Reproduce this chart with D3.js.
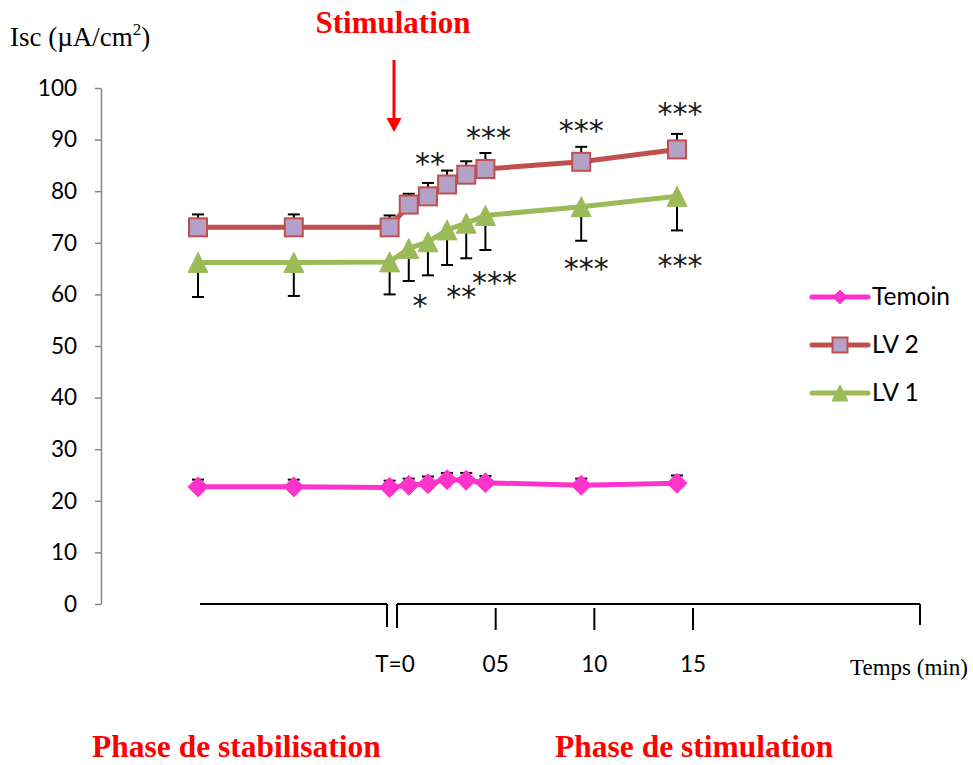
<!DOCTYPE html>
<html>
<head>
<meta charset="utf-8">
<script src="https://cdn.jsdelivr.net/npm/d3@7/dist/d3.min.js"></script>
<style>
  html, body { margin: 0; padding: 0; background: #fff; }
  svg { display: block; }
</style>
</head>
<body>
<svg id="chart" width="973" height="765"></svg>
<script>
// Sampling times (min) relative to stimulation
const minutes = [-10, -5, 0, 1, 2, 3, 4, 5, 10, 15];

// Short-circuit current (µA/cm²), mean and SEM
const temoin    = [22.7, 22.7, 22.6, 23.0, 23.3, 24.1, 24.0, 23.5, 23.0, 23.4];
const temoinErr = [1.4, 1.4, 1.3, 1.3, 1.4, 1.3, 1.4, 1.3, 1.3, 1.5];
const lv2       = [73.0, 73.0, 73.0, 77.4, 79.0, 81.3, 83.2, 84.3, 85.7, 88.1];
const lv2Err    = [2.5, 2.5, 2.3, 2.1, 2.6, 2.7, 2.6, 3.1, 2.9, 3.0];
const lv1       = [66.2, 66.2, 66.3, 68.9, 70.2, 72.5, 73.8, 75.3, 77.0, 79.0];
const lv1Err    = [6.7, 6.5, 6.3, 6.3, 6.5, 6.8, 6.8, 6.7, 6.6, 6.6];

const seriesNames = ["Temoin", "LV 2", "LV 1"];

// Value axis ticks
const yTicks = [0, 10, 20, 30, 40, 50, 60, 70, 80, 90, 100];

// Time axis drawn under the plot
const timeTicks = [0, 5, 10, 15];
const timeTickLabels = ["T=0", "05", "10", "15"];

// Significance marks: LV 2 above its error bars, LV 1 below
const sigLv2 = [{ t: 2, label: "**" }, { t: 5, label: "***" }, { t: 10, label: "***" }, { t: 15, label: "***" }];
const sigLv1 = [{ t: 2, label: "*" }, { t: 4, label: "**" }, { t: 5, label: "***" }, { t: 10, label: "***" }, { t: 15, label: "***" }];

// ---------- layout ----------
const svg = d3.select("#chart");
const axisGray = "#868686";
const colors = { "Temoin": "#FF33CC", "LV 2": "#C0504D", "LV 1": "#9BBB59" };
const squareFill = "#B3A2C7";
const red = "#FF0000";
const serif = "'Liberation Serif', 'Times New Roman', serif";
const sans = "Lato, 'Open Sans', sans-serif";

const x = d3.scaleLinear().domain([-10, 15]).range([198, 677]);
const y = d3.scaleLinear().domain([0, 100]).range([604, 88]);
const tx = d3.scaleLinear().domain([0, 15]).range([397, 693]);

// nudges for the significance marks (px)
const sigLv2Offset = [[2, -26], [3, -22], [0, -23], [3, -27]];
const sigLv1Offset = [[-8, 24], [-5, 32], [9, 26], [5, 21], [3, 29]];

// ---------- y axis ----------
const yAxis = d3.axisLeft(y).tickValues(yTicks).tickSize(6).tickSizeOuter(0).tickPadding(18);
const gy = svg.append("g").attr("transform", "translate(101,0)").call(yAxis);
gy.select(".domain").attr("stroke", axisGray).attr("stroke-width", 1.5);
gy.selectAll(".tick line").attr("stroke", axisGray).attr("stroke-width", 1.5);
gy.selectAll(".tick text").attr("font-family", sans).attr("font-size", 22.5).attr("fill", "#000");

// y title
const yTitle = svg.append("text").attr("x", 10).attr("y", 46)
  .attr("font-family", serif).attr("font-size", 27).attr("fill", "#000");
yTitle.append("tspan").text("Isc (µA/cm");
yTitle.append("tspan").attr("font-size", 17).attr("dy", -11).text("2");
yTitle.append("tspan").attr("dy", 11).text(")");

// ---------- series ----------
const series = [
  { name: "Temoin", values: temoin, err: temoinErr, dir: 1, marker: "diamond" },
  { name: "LV 2", values: lv2, err: lv2Err, dir: 1, marker: "square" },
  { name: "LV 1", values: lv1, err: lv1Err, dir: -1, marker: "triangle" }
];

const line = d3.line().x(d => x(d[0])).y(d => y(d[1]));

function drawMarker(g, type, cx, cy, size, name) {
  if (type === "diamond") {
    const r = size / 2;
    g.append("path")
      .attr("d", `M${cx},${cy - r}L${cx + r},${cy}L${cx},${cy + r}L${cx - r},${cy}Z`)
      .attr("fill", colors[name]).attr("stroke", colors[name]).attr("stroke-width", 1);
  } else if (type === "square") {
    g.append("rect").attr("x", cx - size / 2).attr("y", cy - size / 2)
      .attr("width", size).attr("height", size)
      .attr("fill", squareFill).attr("stroke", colors[name]).attr("stroke-width", 2);
  } else {
    const h = size;
    g.append("path")
      .attr("d", `M${cx},${cy - h / 2}L${cx + size / 2},${cy + h / 2}L${cx - size / 2},${cy + h / 2}Z`)
      .attr("fill", colors[name]).attr("stroke", colors[name]).attr("stroke-width", 1);
  }
}

const plot = svg.append("g");

// lines
series.forEach(s => {
  const pts = minutes.map((m, i) => [m, s.values[i]]);
  plot.append("path").datum(pts).attr("d", line)
    .attr("fill", "none").attr("stroke", colors[s.name]).attr("stroke-width", 5)
    .attr("stroke-linejoin", "round");
});

// error bars (one-sided)
series.forEach(s => {
  minutes.forEach((m, i) => {
    const cx = x(m), y0 = y(s.values[i]), y1 = y(s.values[i] + s.dir * s.err[i]);
    plot.append("line").attr("x1", cx).attr("x2", cx).attr("y1", y0).attr("y2", y1)
      .attr("stroke", "#000").attr("stroke-width", 2);
    plot.append("line").attr("x1", cx - 6).attr("x2", cx + 6).attr("y1", y1).attr("y2", y1)
      .attr("stroke", "#000").attr("stroke-width", 2);
  });
});

// markers
const markerSize = { diamond: 20, square: 18, triangle: 20 };
series.forEach(s => {
  minutes.forEach((m, i) => {
    drawMarker(plot, s.marker, x(m), y(s.values[i]), markerSize[s.marker], s.name);
  });
});

// significance marks
function sigText(list, offsets, vals, errs, dir) {
  list.forEach((a, k) => {
    const i = minutes.indexOf(a.t);
    const cx = x(a.t) + offsets[k][0];
    const cy = y(vals[i] + dir * errs[i]) + offsets[k][1];
    svg.append("text").attr("x", cx).attr("y", cy + 17)
      .attr("text-anchor", "middle")
      .attr("font-family", "'DejaVu Sans', sans-serif").attr("font-size", 30)
      .attr("letter-spacing", 0).attr("fill", "#1a1a1a")
      .text(a.label);
  });
}
sigText(sigLv2, sigLv2Offset, lv2, lv2Err, 1);
sigText(sigLv1, sigLv1Offset, lv1, lv1Err, -1);

// ---------- legend ----------
const legendY = [297, 345, 393];
series.forEach((s, k) => {
  const g = svg.append("g");
  g.append("line").attr("x1", 812).attr("x2", 868).attr("y1", legendY[k]).attr("y2", legendY[k])
    .attr("stroke", colors[s.name]).attr("stroke-width", 5).attr("stroke-linecap", "round");
  const sz = s.marker === "diamond" ? 14 : (s.marker === "square" ? 15 : 16);
  drawMarker(g, s.marker, 840, legendY[k], sz, s.name);
  g.append("text").attr("x", 872).attr("y", legendY[k] + 8)
    .attr("font-family", sans).attr("font-size", 24.5).attr("fill", "#000")
    .text(seriesNames[k]);
});

// ---------- time axis ----------
const axisY = 604;
const ta = svg.append("g").attr("stroke", "#000").attr("stroke-width", 2);
ta.append("line").attr("x1", 200).attr("x2", 387).attr("y1", axisY).attr("y2", axisY);
ta.append("line").attr("x1", 387).attr("x2", 387).attr("y1", axisY).attr("y2", axisY + 23);
ta.append("line").attr("x1", tx(0)).attr("x2", 920).attr("y1", axisY).attr("y2", axisY);
ta.append("line").attr("x1", tx(0)).attr("x2", tx(0)).attr("y1", axisY).attr("y2", axisY + 24);
ta.append("line").attr("x1", 920).attr("x2", 920).attr("y1", axisY).attr("y2", axisY + 21);
timeTicks.slice(1).forEach(t => {
  ta.append("line").attr("x1", tx(t)).attr("x2", tx(t)).attr("y1", axisY + 4).attr("y2", axisY + 26);
});
timeTicks.forEach((t, i) => {
  svg.append("text").attr("x", tx(t) - (i === 0 ? 2 : 0)).attr("y", 672)
    .attr("text-anchor", "middle").attr("font-family", sans).attr("font-size", 22.5)
    .attr("fill", "#000").text(timeTickLabels[i]);
});
svg.append("text").attr("x", 850).attr("y", 675)
  .attr("font-family", serif).attr("font-size", 23).attr("fill", "#000").text("Temps (min)");

// ---------- stimulation marker ----------
svg.append("text").attr("x", 393).attr("y", 33).attr("text-anchor", "middle")
  .attr("font-family", serif).attr("font-weight", "bold").attr("font-size", 31)
  .attr("fill", red).text("Stimulation");
svg.append("line").attr("x1", 394).attr("x2", 394).attr("y1", 60).attr("y2", 119)
  .attr("stroke", red).attr("stroke-width", 3);
svg.append("path").attr("d", "M386.5,118L401.5,118L394,132Z").attr("fill", red);

// ---------- phase labels ----------
svg.append("text").attr("x", 92).attr("y", 757)
  .attr("font-family", serif).attr("font-weight", "bold").attr("font-size", 31.5)
  .attr("fill", red).text("Phase de stabilisation");
svg.append("text").attr("x", 555).attr("y", 757)
  .attr("font-family", serif).attr("font-weight", "bold").attr("font-size", 31.5)
  .attr("fill", red).text("Phase de stimulation");
</script>
</body>
</html>
